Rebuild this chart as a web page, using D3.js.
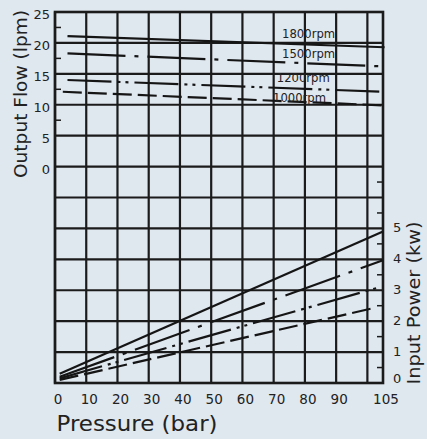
<!DOCTYPE html>
<html><head><meta charset="utf-8">
<script src="https://cdn.jsdelivr.net/npm/d3@7"></script>
<style>
html,body{margin:0;padding:0;background:#dfe7ef;}
svg{display:block;}
text{font-family:"DejaVu Sans","Open Sans",sans-serif;fill:#222;}
</style></head>
<body>
<script>
// ---- data ----
const pressureTicks = [0,10,20,30,40,50,60,70,80,90,105];
const flowTicks = [0,5,10,15,20,25];
const powerTicks = [0,1,2,3,4,5];
const rpmLabels = ["1800rpm","1500rpm","1200rpm","1000rpm"];
const styles = ["solid","dashdot","dashdotdot","dash"];
// Output flow (lpm) vs pressure (bar)
const flowPressure = [[4,105.5],[4,105],[4,105],[2.5,105]];
const flow1800 = [21.1,19.3];
const flow1500 = [18.3,16.2];
const flow1200 = [14.0,12.1];
const flow1000 = [12.1,9.9];
// Input power (kw) vs pressure (bar)
const powerPressure = [[1.5,105],[1.5,105],[1.5,104],[1.5,101]];
const power1800 = [0.3,4.9];
const power1500 = [0.2,3.97];
const power1200 = [0.15,3.1];
const power1000 = [0.1,2.4];

const W=427,H=439;
const L=55,R=383,T=12,B=383;
const svg=d3.select("body").append("svg").attr("width",W).attr("height",H);

const x=d3.scaleLinear().domain([0,105]).range([L,R]);
const yF=d3.scaleLinear().domain([-35,25]).range([B,T]);
const yP=d3.scaleLinear().domain([0,12]).range([B,T]);

const dash={solid:null,dashdot:"58,9,4,9",dashdotdot:"44,6,3,5,3,6",dash:"19,6"};

// grid
const g=svg.append("g");
d3.range(0,101,10).forEach(v=>{
  g.append("line").attr("x1",x(v)).attr("x2",x(v)).attr("y1",T).attr("y2",B)
   .attr("stroke","#1b1b1b").attr("stroke-width",2.2);
});
d3.range(-35,26,5).forEach(v=>{
  g.append("line").attr("x1",L).attr("x2",R).attr("y1",yF(v)).attr("y2",yF(v))
   .attr("stroke","#1b1b1b").attr("stroke-width",2.2);
});
g.append("rect").attr("x",L).attr("y",T).attr("width",R-L).attr("height",B-T)
 .attr("fill","none").attr("stroke","#1b1b1b").attr("stroke-width",2.6);

// minor ticks
[22.5,17.5,12.5,7.5].forEach(v=>{
  g.append("line").attr("x1",L).attr("x2",L+6).attr("y1",yF(v)).attr("y2",yF(v)).attr("stroke","#1b1b1b").attr("stroke-width",1.5);
});
[0.5,1.5,2.5,3.5,4.5,5.5,6.5].forEach(v=>{
  g.append("line").attr("x1",R-6).attr("x2",R).attr("y1",yP(v)).attr("y2",yP(v)).attr("stroke","#1b1b1b").attr("stroke-width",1.5);
});

// curves
const flows=[flow1800,flow1500,flow1200,flow1000];
const powers=[power1800,power1500,power1200,power1000];
const lineF=d3.line().x(d=>x(d[0])).y(d=>yF(d[1]));
const lineP=d3.line().x(d=>x(d[0])).y(d=>yP(d[1]));
flows.forEach((s,i)=>{
  const pts=flowPressure[i].map((p,j)=>[p,s[j]]);
  svg.append("path").attr("d",lineF(pts)).attr("fill","none").attr("stroke","#151515")
    .attr("stroke-width",2.2).attr("stroke-dasharray",dash[styles[i]]);
});
powers.forEach((s,i)=>{
  const pts=powerPressure[i].map((p,j)=>[p,s[j]]);
  svg.append("path").attr("d",lineP(pts)).attr("fill","none").attr("stroke","#151515")
    .attr("stroke-width",2.2).attr("stroke-dasharray",dash[styles[i]]);
});

// rpm labels
const rpmPos=[[72.7,20.8],[72.7,17.6],[71,13.7],[69.8,10.5]];
rpmLabels.forEach((t,i)=>{
  svg.append("text").attr("x",x(rpmPos[i][0])).attr("y",yF(rpmPos[i][1]))
   .attr("font-size",12.5).attr("textLength",53).attr("lengthAdjust","spacingAndGlyphs").text(t);
});

// axis tick labels
pressureTicks.forEach(v=>{
  svg.append("text").attr("x",x(v)+3).attr("y",404).attr("text-anchor","middle")
   .attr("font-size",13.5).text(v);
});
flowTicks.forEach(v=>{
  svg.append("text").attr("x",50).attr("y",yF(v)+7).attr("text-anchor","end")
   .attr("font-size",13).text(v);
});
powerTicks.forEach(v=>{
  svg.append("text").attr("x",393).attr("y",yP(v)+4 - (v===0?4:0)).attr("text-anchor","start")
   .attr("font-size",13).text(v);
});

// axis titles
svg.append("text").attr("transform","translate(27,94) rotate(-90)").attr("text-anchor","middle")
 .attr("font-size",18).attr("textLength",168).attr("lengthAdjust","spacingAndGlyphs").text("Output Flow (lpm)");
svg.append("text").attr("transform","translate(420,303) rotate(-90)").attr("text-anchor","middle")
 .attr("font-size",18).attr("textLength",163).attr("lengthAdjust","spacingAndGlyphs").text("Input Power (kw)");
svg.append("text").attr("x",137).attr("y",431).attr("text-anchor","middle")
 .attr("font-size",21).attr("textLength",161).attr("lengthAdjust","spacingAndGlyphs").text("Pressure (bar)");
</script>
</body></html>
